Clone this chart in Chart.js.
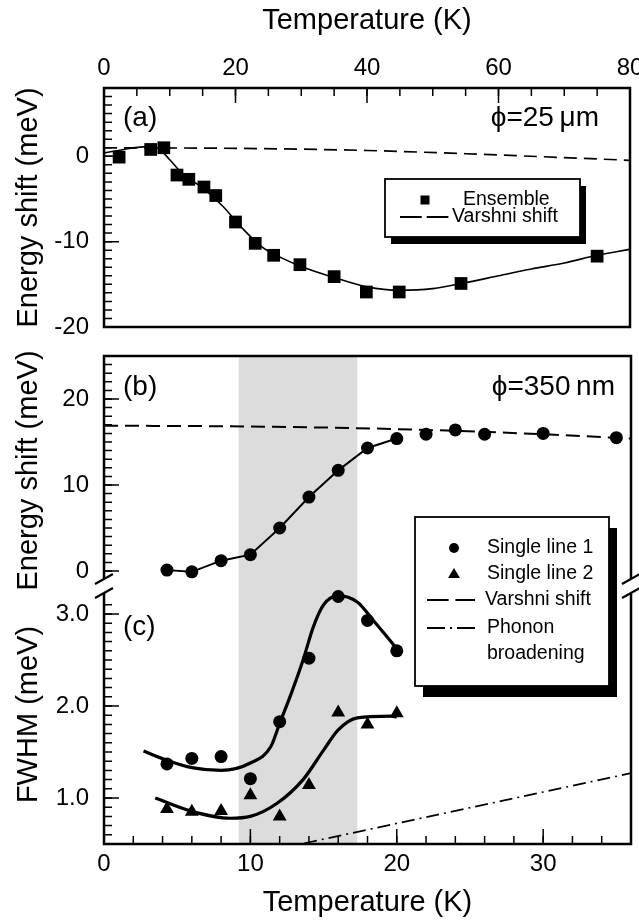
<!DOCTYPE html>
<html>
<head>
<meta charset="utf-8">
<title>Energy shift and FWHM vs temperature</title>
<script src="https://cdn.jsdelivr.net/npm/chart.js@4.4.1/dist/chart.umd.min.js"></script>
<style>
  body { margin: 0; background: #fff; }
  #page { position: relative; width: 639px; height: 920px; }
  #page canvas { position: absolute; left: 0; }
</style>
</head>
<body>
<div id="page">
  <canvas id="chartA" width="639" height="336" style="top:0"></canvas>
  <canvas id="chartB" width="639" height="584" style="top:336px"></canvas>
</div>
<script>
// panel (a): ensemble, phi = 25 um
const ensT = [2.3, 7.1, 9.1, 11.1, 12.9, 15.2, 17.0, 20.0, 23.0, 25.8, 29.8, 35.0, 39.9, 44.9, 54.3, 75.0];
const ensE = [-0.1, 0.8, 1.0, -2.2, -2.7, -3.6, -4.6, -7.7, -10.2, -11.6, -12.7, -14.1, -15.9, -15.9, -14.9, -11.7];
const fitAT = [0, 3, 6, 8, 10, 12, 15, 18, 21, 24, 27, 30, 35, 40, 45, 50, 55, 60, 65, 70, 75, 80];
const fitAE = [0.4, 0.8, 1.1, 1.0, -0.4, -2.1, -3.7, -5.8, -8.4, -10.6, -11.9, -12.9, -14.2, -15.3, -15.7, -15.5, -14.8, -14.0, -13.2, -12.5, -11.6, -10.9];
const varAT = [0, 20, 40, 60, 80];
const varAE = [1.0, 0.93, 0.68, 0.15, -0.47];

// panel (b): single lines, phi = 350 nm
const singleT = [4.3, 6, 8, 10, 12, 14, 16, 18, 20, 22, 24, 26, 30, 35];
const shiftE = [0.1, -0.1, 1.2, 1.9, 5.0, 8.6, 11.7, 14.3, 15.4, 15.9, 16.4, 15.9, 16.0, 15.5];
const joinedCount = 9;
const varBT = [0, 10, 20, 30, 36];
const varBE = [16.9, 16.8, 16.5, 15.9, 15.4];

// panel (c): FWHM
const fwhmT = [4.3, 6, 8, 10, 12, 14, 16, 18, 20];
const fwhm1 = [1.37, 1.43, 1.45, 1.21, 1.83, 2.52, 3.19, 2.93, 2.60];
const fwhm2 = [0.88, 0.85, 0.86, 1.03, 0.80, 1.14, 1.93, 1.80, 1.92];
const fit1T = [2.7, 4.3, 6, 8, 10, 11.4, 12, 12.8, 13.6, 14.3, 15, 16, 17.3, 18.4, 19.6, 20.0];
const fit1F = [1.51, 1.41, 1.33, 1.30, 1.38, 1.56, 1.81, 2.14, 2.50, 2.86, 3.10, 3.20, 3.13, 2.93, 2.70, 2.62];
const fit2T = [3.5, 5.9, 8.6, 10, 11.8, 13.6, 15, 16, 17.3, 19.6, 20];
const fit2F = [1.0, 0.86, 0.78, 0.80, 0.94, 1.20, 1.52, 1.74, 1.87, 1.89, 1.88];
const phononT = [12, 24, 36];
const phononF = [0.45, 0.86, 1.27];
const shadedT = [9.2, 17.3];

// tick labels
const topTicks = [0, 20, 40, 60, 80];
const aTicks = [-20, -10, 0];
const bottomTicks = [0, 10, 20, 30];
const bTicks = [0, 10, 20];
const cTicks = [1.0, 2.0, 3.0];

const FONT = '"Liberation Sans", Arial, Helvetica, sans-serif';
Chart.defaults.font.family = FONT;
Chart.defaults.color = '#000';

function pts(xs, ys) { return xs.map((x, i) => ({ x: x, y: ys[i] })); }
function steps(from, to, step) {
  const out = [];
  for (let v = from; v <= to + 1e-9; v += step) out.push(Math.round(v * 1000) / 1000);
  return out;
}
function fixedTicks(values) { return axis => { axis.ticks = values.map(v => ({ value: v })); }; }
function noPad(axis) { axis.paddingLeft = axis.paddingRight = axis.paddingTop = axis.paddingBottom = 0; }

function tickMarks(ctx, scale, values, side, a, len, lo, hi) {
  ctx.beginPath();
  values.forEach(v => {
    const p = scale.getPixelForValue(v);
    if (side === 'left') {
      if (p <= lo + 1 || p >= hi - 1) return;
      ctx.moveTo(a.left, p); ctx.lineTo(a.left + len, p);
    } else if (side === 'top') {
      ctx.moveTo(p, a.top); ctx.lineTo(p, a.top + len);
    } else {
      ctx.moveTo(p, a.bottom); ctx.lineTo(p, a.bottom - len);
    }
  });
  ctx.stroke();
}

function legendBox(ctx, x, y, w, h, sx, sy, rows) {
  ctx.save();
  ctx.fillStyle = '#000';
  ctx.fillRect(x + sx, y + sy, w, h);
  ctx.fillStyle = '#fff';
  ctx.fillRect(x, y, w, h);
  ctx.lineWidth = 1.8;
  ctx.strokeStyle = '#000';
  ctx.strokeRect(x, y, w, h);
  ctx.font = '19.5px ' + FONT;
  ctx.textBaseline = 'middle';
  ctx.textAlign = 'left';
  ctx.fillStyle = '#000';
  rows.forEach(r => {
    const my = y + r.my;
    if (r.mark === 'rect') {
      ctx.fillRect(x + r.mx - 4.5, my - 4.5, 9, 9);
    } else if (r.mark === 'circle') {
      ctx.beginPath(); ctx.arc(x + r.mx, my, 5, 0, Math.PI * 2); ctx.fill();
    } else if (r.mark === 'triangle') {
      ctx.beginPath();
      ctx.moveTo(x + r.mx, my - 6); ctx.lineTo(x + r.mx + 6, my + 4); ctx.lineTo(x + r.mx - 6, my + 4);
      ctx.closePath(); ctx.fill();
    } else {
      ctx.setLineDash(r.mark);
      ctx.lineWidth = 1.8;
      ctx.beginPath(); ctx.moveTo(x + r.mx, my); ctx.lineTo(x + r.mx2, my); ctx.stroke();
      ctx.setLineDash([]);
    }
    r.text.forEach((t, i) => ctx.fillText(t, x + r.tx, my + i * 25.5));
  });
  ctx.restore();
}

function panelText(ctx, text, x, y, align) {
  ctx.font = '28px ' + FONT;
  ctx.fillStyle = '#000';
  ctx.textAlign = align;
  ctx.textBaseline = 'middle';
  ctx.fillText(text, x, y);
}

const tickFont = { size: 24 };
const titleFont = { size: 29 };

// ---------- panel (a) ----------
const decoA = {
  id: 'decoA',
  afterDatasetsDraw(chart) {
    const { ctx, chartArea: a, scales: { x, y } } = chart;
    ctx.save();
    ctx.strokeStyle = '#000';
    ctx.lineWidth = 1.5;
    tickMarks(ctx, x, steps(0, 80, 5), 'top', a, 8);
    tickMarks(ctx, x, topTicks, 'top', a, 15);
    tickMarks(ctx, y, steps(-20, 8, 1), 'left', a, 8, a.top, a.bottom);
    tickMarks(ctx, y, aTicks, 'left', a, 15, a.top, a.bottom);
    ctx.lineWidth = 2.5;
    ctx.strokeRect(a.left, a.top, a.right - a.left, a.bottom - a.top);
    panelText(ctx, '(a)', a.left + 19, a.top + 30, 'left');
    panelText(ctx, '\u03d5=25\u2009\u03bcm', a.right - 31, a.top + 30, 'right');
    const ds = chart.data.datasets;
    legendBox(ctx, a.left + 281, a.top + 91, 195, 58, 6, 7, [
      { mark: 'rect', mx: 40, my: 21, tx: 78, text: [ds[0].label] },
      { mark: [21.7, 5], mx: 15, mx2: 65, my: 38, tx: 67, text: [ds[2].label] }
    ]);
    ctx.restore();
  }
};

new Chart(document.getElementById('chartA'), {
  type: 'scatter',
  data: {
    datasets: [
      { label: 'Ensemble', data: pts(ensT, ensE), pointStyle: 'rect', pointRadius: 9,
        backgroundColor: '#000', borderColor: '#000', borderWidth: 0, xAxisID: 'x', yAxisID: 'y' },
      { label: 'fit', data: pts(fitAT, fitAE), showLine: true, pointRadius: 0, borderColor: '#000',
        borderWidth: 1.6, cubicInterpolationMode: 'monotone', xAxisID: 'x', yAxisID: 'y' },
      { label: 'Varshni shift', data: pts(varAT, varAE), showLine: true, pointRadius: 0, borderColor: '#000',
        borderWidth: 1.7, borderDash: [13, 7], cubicInterpolationMode: 'monotone', xAxisID: 'x', yAxisID: 'y' }
    ]
  },
  options: {
    responsive: false,
    animation: false,
    devicePixelRatio: 1,
    layout: { padding: { left: 0, right: 8, top: 0, bottom: 8 } },
    plugins: { legend: { display: false }, tooltip: { enabled: false } },
    scales: {
      x: {
        type: 'linear', position: 'top', min: 0, max: 80,
        afterBuildTicks: fixedTicks(topTicks),
        afterFit: s => { s.height = 88; noPad(s); },
        grid: { display: false, drawTicks: false }, border: { display: false },
        ticks: { font: tickFont, padding: 5, maxRotation: 0, autoSkip: false },
        title: { display: true, text: 'Temperature (K)', font: titleFont, padding: { top: 4, bottom: 0 } }
      },
      y: {
        type: 'linear', position: 'left', min: -20, max: 8,
        afterBuildTicks: fixedTicks(aTicks),
        afterFit: s => { s.width = 104; noPad(s); },
        grid: { display: false, drawTicks: false }, border: { display: false },
        ticks: { font: tickFont, padding: 15, callback: v => String(v) },
        title: { display: true, text: 'Energy shift (meV)', font: titleFont, padding: { top: 12, bottom: 0 } }
      }
    }
  },
  plugins: [decoA]
});

// ---------- panels (b) and (c) ----------
const decoB = {
  id: 'decoB',
  beforeDatasetsDraw(chart) {
    const { ctx, chartArea: a, scales: { x } } = chart;
    ctx.save();
    ctx.fillStyle = '#dcdcdc';
    const x0 = x.getPixelForValue(shadedT[0]);
    const x1 = x.getPixelForValue(shadedT[1]);
    ctx.fillRect(x0, a.top, x1 - x0, a.bottom - a.top);
    ctx.restore();
  },
  afterDatasetsDraw(chart) {
    const { ctx, chartArea: a, scales: { x, yb, yc } } = chart;
    const gapTop = yc.top - 6;
    const gapBot = yc.top + 8;
    ctx.save();
    ctx.strokeStyle = '#000';
    ctx.lineWidth = 1.5;
    tickMarks(ctx, x, steps(0, 36, 2), 'bottom', a, 8);
    tickMarks(ctx, x, bottomTicks, 'bottom', a, 15);
    tickMarks(ctx, yb, steps(-1, 25, 1), 'left', a, 8, a.top, gapTop);
    tickMarks(ctx, yb, bTicks, 'left', a, 15, a.top, gapTop);
    tickMarks(ctx, yc, steps(0.5, 3.3, 0.1), 'left', a, 8, gapBot + 3, a.bottom);
    tickMarks(ctx, yc, cTicks, 'left', a, 15, gapBot + 3, a.bottom);

    ctx.lineWidth = 2.5;
    ctx.beginPath();
    ctx.moveTo(a.left, gapTop); ctx.lineTo(a.left, a.top); ctx.lineTo(a.right, a.top); ctx.lineTo(a.right, gapTop);
    ctx.moveTo(a.left, gapBot); ctx.lineTo(a.left, a.bottom); ctx.lineTo(a.right, a.bottom); ctx.lineTo(a.right, gapBot);
    ctx.stroke();
    ctx.lineWidth = 2.2;
    ctx.beginPath();
    [a.left, a.right].forEach(bx => {
      [gapTop, gapBot].forEach(by => { ctx.moveTo(bx - 9, by + 5); ctx.lineTo(bx + 9, by - 5); });
    });
    ctx.stroke();

    panelText(ctx, '(b)', a.left + 19, a.top + 31, 'left');
    panelText(ctx, '\u03d5=350\u2009nm', a.right - 16, a.top + 31, 'right');
    panelText(ctx, '(c)', a.left + 19, yc.top + 42, 'left');

    const ds = chart.data.datasets;
    legendBox(ctx, a.left + 311, a.top + 161, 194, 169, 8, 11, [
      { mark: 'circle', mx: 39, my: 31, tx: 72, text: [ds[0].label] },
      { mark: 'triangle', mx: 39, my: 57, tx: 72, text: [ds[2].label] },
      { mark: [21.7, 6.7], mx: 12, mx2: 60, my: 83, tx: 70, text: [ds[7].label] },
      { mark: [18, 5, 2, 5], mx: 12, mx2: 60, my: 111, tx: 72, text: ds[6].label.split(' ') }
    ]);
    ctx.restore();
  }
};

new Chart(document.getElementById('chartB'), {
  type: 'scatter',
  data: {
    datasets: [
      { label: 'Single line 1', data: pts(singleT, shiftE), pointStyle: 'circle', pointRadius: 6.5,
        backgroundColor: '#000', borderColor: '#000', borderWidth: 0, xAxisID: 'x', yAxisID: 'yb' },
      { label: 'Single line 1 FWHM', data: pts(fwhmT, fwhm1), pointStyle: 'circle', pointRadius: 6.5,
        backgroundColor: '#000', borderColor: '#000', borderWidth: 0, xAxisID: 'x', yAxisID: 'yc' },
      { label: 'Single line 2', data: pts(fwhmT, fwhm2), pointStyle: 'triangle', pointRadius: 8,
        backgroundColor: '#000', borderColor: '#000', borderWidth: 0, xAxisID: 'x', yAxisID: 'yc' },
      { label: 'guide', data: pts(singleT.slice(0, joinedCount), shiftE.slice(0, joinedCount)), showLine: true,
        pointRadius: 0, borderColor: '#000', borderWidth: 2, xAxisID: 'x', yAxisID: 'yb' },
      { label: 'fit 1', data: pts(fit1T, fit1F), showLine: true, pointRadius: 0, borderColor: '#000',
        borderWidth: 3.2, cubicInterpolationMode: 'monotone', xAxisID: 'x', yAxisID: 'yc' },
      { label: 'fit 2', data: pts(fit2T, fit2F), showLine: true, pointRadius: 0, borderColor: '#000',
        borderWidth: 3.2, cubicInterpolationMode: 'monotone', xAxisID: 'x', yAxisID: 'yc' },
      { label: 'Phonon broadening', data: pts(phononT, phononF), showLine: true, pointRadius: 0,
        borderColor: '#000', borderWidth: 1.6, borderDash: [13, 5, 2, 5], xAxisID: 'x', yAxisID: 'yc' },
      { label: 'Varshni shift', data: pts(varBT, varBE), showLine: true, pointRadius: 0, borderColor: '#000',
        borderWidth: 2, borderDash: [14, 7], cubicInterpolationMode: 'monotone', xAxisID: 'x', yAxisID: 'yb' }
    ]
  },
  options: {
    responsive: false,
    animation: false,
    devicePixelRatio: 1,
    layout: { padding: { left: 0, right: 8, top: 20, bottom: 0 } },
    plugins: { legend: { display: false }, tooltip: { enabled: false } },
    scales: {
      x: {
        type: 'linear', position: 'bottom', min: 0, max: 36,
        afterBuildTicks: fixedTicks(bottomTicks),
        afterFit: s => { s.height = 76; noPad(s); },
        grid: { display: false, drawTicks: false }, border: { display: false },
        ticks: { font: tickFont, padding: 6, maxRotation: 0, autoSkip: false },
        title: { display: true, text: 'Temperature (K)', font: titleFont, padding: { top: 0, bottom: 0 } }
      },
      yc: {
        type: 'linear', position: 'left', stack: 'left', stackWeight: 259, min: 0.5, max: 3.315,
        afterBuildTicks: fixedTicks(cTicks),
        afterFit: s => { s.width = 104; noPad(s); },
        grid: { display: false, drawTicks: false }, border: { display: false },
        ticks: { font: tickFont, padding: 15, callback: v => v.toFixed(1) },
        title: { display: true, text: 'FWHM (meV)', font: titleFont, padding: { top: 12, bottom: 0 } }
      },
      yb: {
        type: 'linear', position: 'left', stack: 'left', stackWeight: 229, min: -1.63, max: 25,
        afterBuildTicks: fixedTicks(bTicks),
        afterFit: s => { s.width = 104; noPad(s); },
        grid: { display: false, drawTicks: false }, border: { display: false },
        ticks: { font: tickFont, padding: 15, callback: v => String(v) },
        title: { display: true, text: 'Energy shift (meV)', font: titleFont, padding: { top: 12, bottom: 0 } }
      }
    }
  },
  plugins: [decoB]
});
</script>
</body>
</html>
